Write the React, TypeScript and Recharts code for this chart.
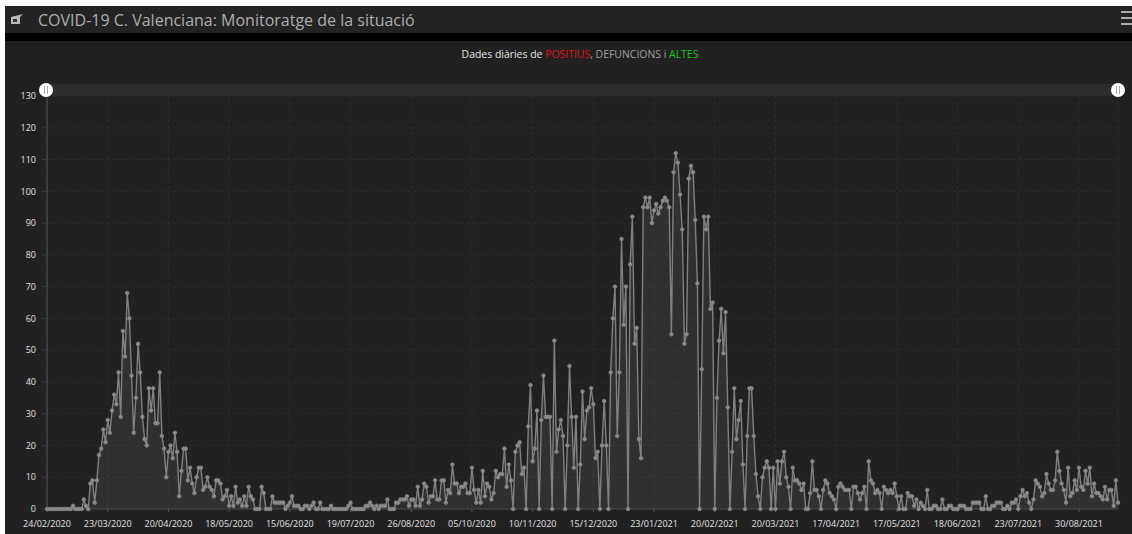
import React from "react";
import { AreaChart, Area, XAxis, YAxis, CartesianGrid } from "recharts";

const tickLabels = [
  "24/02/2020", "23/03/2020", "20/04/2020", "18/05/2020", "15/06/2020", "19/07/2020",
  "26/08/2020", "05/10/2020", "10/11/2020", "15/12/2020", "23/01/2021", "20/02/2021",
  "20/03/2021", "17/04/2021", "17/05/2021", "18/06/2021", "23/07/2021", "30/08/2021",
];
const yTicks = [0, 10, 20, 30, 40, 50, 60, 70, 80, 90, 100, 110, 120, 130];

// daily values
const firstWave = [
  0,0,0,0,0,0,0,0,0,0,0,0,1,0,0,0,0,3,1,0,
  8,9,2,9,17,19,25,21,28,24,31,36,33,43,29,56,48,68,60,42,
  24,35,52,43,29,22,20,38,31,38,27,27,43,23,19,10,18,20,16,24,
  18,4,12,19,19,9,13,8,5,10,13,13,6,7,10,7,6,4,9,9,
  8,3,4,6,1,4,1,7,2,3,1,4,1,7,4,3,0,0,0,7,
  5,0,0,0,4,2,2,2,2,2,0,1,2,4,1,1,1,0,0,1,
  1,0,1,2,0,0,2,0,0,0,0,1,0,0,0,0,0,0,0,1,
  2,0,0,0,0,0,0,1,1,2,1,0,1,0,1,
];
const secondWave = [
  1,1,3,0,0,0,2,2,3,3,3,4,1,3,3,1,7,1,3,8,7,2,4,4,9,3,3,9,9,2,6,5,14,8,8,5,7,7,8,5,5,13,
  6,2,6,2,12,4,8,7,3,5,12,10,11,11,19,7,14,9,0,18,20,21,11,13,0,26,39,15,19,31,0,28,42,
  29,29,29,0,53,18,25,28,23,0,20,45,29,13,29,0,14,37,22,31,32,38,33,16,18,0,20,34,20,0,
  43,60,70,23,43,85,58,70,0,77,92,52,57,22,16,95,98,95,98,90,94,96,93,95,97,98,97,95,55,
  106,112,109,99,88,52,55,104,108,106,91,71,0,44,92,88,92,63,65,0,35,53,63,49,62,32,0,
  18,38,22,28,34,14,0,23,38,38,23,11,4,
];
const lateValues = [
  0,10,13,15,13,0,13,0,15,8,15,18,10,7,0,13,9,9,8,6,8,0,0,5,15,6,6,4,0,6,9,8,5,4,3,0,
  7,8,7,6,6,6,0,7,7,5,3,5,7,0,15,9,8,5,6,5,0,7,6,5,6,5,8,4,0,4,0,0,5,4,4,1,3,0,2,1,0,6,
  0,0,1,1,0,0,3,0,0,1,1,0,0,0,1,1,1,0,0,0,2,2,2,2,0,0,4,0,0,1,1,2,2,2,0,0,1,0,2,2,3,0,
  4,6,4,5,2,0,3,9,8,7,4,5,11,8,6,6,9,18,12,8,6,2,13,4,5,9,6,13,7,6,12,8,13,4,8,5,5,4,3,
  7,3,6,6,1,9,2,
];

const values = [...firstWave, ...secondWave, ...lateValues];
const chartData = values.map((v, i) => ({ i, v }));
const TICK_STEP = 28;
const xTicks = tickLabels.map((_, k) => k * TICK_STEP);

const FONT = "'Open Sans', sans-serif";

function Grip({ left }: { left: number }) {
  return (
    <div
      style={{
        position: "absolute",
        left: left - 7,
        top: 83,
        width: 14,
        height: 14,
        borderRadius: "50%",
        background: "#fff",
      }}
    >
      <div style={{ position: "absolute", left: 5, top: 3, width: 1, height: 8, background: "#aaa" }} />
      <div style={{ position: "absolute", left: 8, top: 3, width: 1, height: 8, background: "#aaa" }} />
    </div>
  );
}

export default function App() {
  return (
    <div
      style={{
        position: "absolute",
        left: 0,
        top: 0,
        width: 1132,
        height: 534,
        overflow: "hidden",
        background: "#fff",
        fontFamily: FONT,
      }}
    >
      {/* header */}
      <div style={{ position: "absolute", left: 5, top: 6, width: 1127, height: 27, background: "#232323" }}>
        <svg width={14} height={12} style={{ position: "absolute", left: 5, top: 8 }}>
          <path d="M1 3 L13 0 L10 3 L10 10 L1 10 Z" fill="#bbb" />
          <rect x={3} y={5} width={4} height={3} fill="#333" />
        </svg>
        <div
          style={{
            position: "absolute",
            left: 33,
            top: 3,
            fontSize: 16,
            lineHeight: "22px",
            color: "#aeaeae",
            whiteSpace: "nowrap",
          }}
        >
          COVID-19 C. Valenciana: Monitoratge de la situació
        </div>
        <div style={{ position: "absolute", left: 1116, top: 5, width: 11, height: 2, background: "#aaa" }} />
        <div style={{ position: "absolute", left: 1116, top: 11, width: 11, height: 2, background: "#aaa" }} />
        <div style={{ position: "absolute", left: 1116, top: 17, width: 11, height: 2, background: "#aaa" }} />
      </div>
      <div style={{ position: "absolute", left: 5, top: 33, width: 1127, height: 8, background: "#000" }} />
      <div style={{ position: "absolute", left: 5, top: 41, width: 1127, height: 493, background: "#212121" }} />

      {/* chart title */}
      <div
        style={{
          position: "absolute",
          left: 5,
          top: 47,
          width: 1150,
          textAlign: "center",
          fontSize: 10.45,
          lineHeight: "14px",
          color: "#e4e4e4",
          whiteSpace: "nowrap",
        }}
      >
        Dades diàries de <span style={{ color: "#e01010" }}>POSITIUS</span>
        <span style={{ color: "#a0a0a0" }}>, DEFUNCIONS i </span>
        <span style={{ color: "#22c422" }}>ALTES</span>
      </div>

      {/* range scrollbar */}
      <div style={{ position: "absolute", left: 47, top: 84, width: 1071, height: 12, background: "#2d2d2d" }} />

      <div style={{ position: "absolute", left: 0, top: 0 }}>
        <AreaChart
          width={1132}
          height={534}
          data={chartData}
          margin={{ top: 96, right: 14, bottom: 0, left: 0 }}
        >
          <CartesianGrid stroke="#2e2e2e" strokeDasharray="3 3" />
          <XAxis
            dataKey="i"
            type="number"
            domain={[0, values.length - 1]}
            ticks={xTicks}
            interval={0}
            height={25}
            tickSize={3}
            tickMargin={9}
            tickFormatter={(i: number) => tickLabels[i / TICK_STEP]}
            tick={{ fill: "#e2e2e2", fontSize: 9, fontFamily: FONT }}
            axisLine={{ stroke: "#4a4a4a", strokeWidth: 1 }}
            tickLine={{ stroke: "#555" }}
          />
          <YAxis
            type="number"
            domain={[0, 130]}
            ticks={yTicks}
            interval={0}
            width={47}
            tickSize={5}
            tickMargin={6}
            tick={{ fill: "#e2e2e2", fontSize: 9, fontFamily: FONT }}
            axisLine={{ stroke: "#555" }}
            tickLine={{ stroke: "#3c3c3c" }}
          />
          <Area
            dataKey="v"
            type="linear"
            stroke="#808080"
            strokeWidth={1.4}
            fill="#ffffff"
            fillOpacity={0.07}
            dot={{ r: 1.8, fill: "#8c8c8c", stroke: "#858585", strokeWidth: 0.8, fillOpacity: 1 }}
            isAnimationActive={false}
          />
        </AreaChart>
      </div>

      <Grip left={46} />
      <Grip left={1118} />
    </div>
  );
}
